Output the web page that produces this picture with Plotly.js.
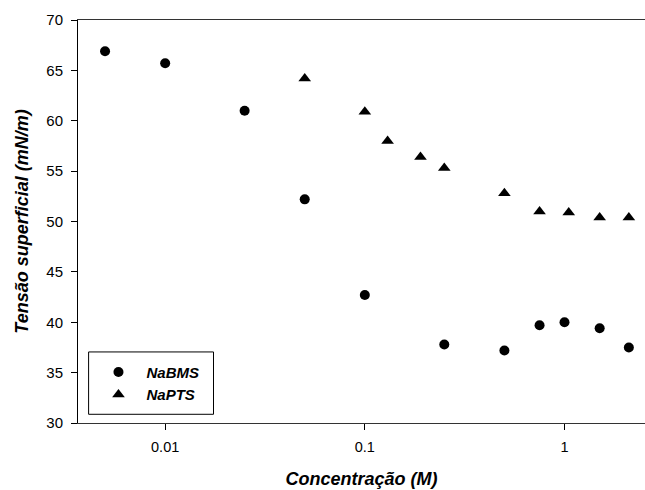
<!DOCTYPE html>
<html>
<head>
<meta charset="utf-8">
<script src="https://cdn.plot.ly/plotly-3.0.1.min.js"></script>
<style>html,body{margin:0;padding:0;background:#fff;}#chart{width:645px;height:490px;}</style>
</head>
<body>
<div id="chart"></div>
<script>
// Data
const nabmsConc = [0.005, 0.01, 0.025, 0.05, 0.1, 0.25, 0.5, 0.75, 1.0, 1.5, 2.1];
const nabmsTension = [66.9, 65.7, 61.0, 52.2, 42.7, 37.8, 37.2, 39.7, 40.0, 39.4, 37.5];
const naptsConc = [0.05, 0.1, 0.13, 0.19, 0.25, 0.5, 0.75, 1.05, 1.5, 2.1];
const naptsTension = [64.2, 60.9, 58.0, 56.4, 55.3, 52.8, 51.0, 50.9, 50.4, 50.4];
const xTickVals = [0.01, 0.1, 1];
const xTickText = ['0.01', '0.1', '1'];
const yTickVals = [30, 35, 40, 45, 50, 55, 60, 65, 70];

const fontFam = 'Arial, "Liberation Sans", sans-serif';

const traces = [
  {x: nabmsConc, y: nabmsTension, name: 'NaBMS', type: 'scatter', mode: 'markers',
   marker: {symbol: 'circle', size: 10, color: '#000'}},
  {x: naptsConc, y: naptsTension, name: 'NaPTS', type: 'scatter', mode: 'markers',
   marker: {symbol: 'triangle-up', size: 11, color: '#000'}}
];

const layout = {
  width: 645, height: 490,
  margin: {l: 78, r: 0, t: 20, b: 67},
  paper_bgcolor: '#fff', plot_bgcolor: '#fff',
  font: {family: fontFam, color: '#000', size: 14},
  showlegend: true,
  legend: {
    x: 0.022, y: 0.167, xanchor: 'left', yanchor: 'top',
    bgcolor: 'rgba(0,0,0,0)', borderwidth: 0,
    itemwidth: 46,
    font: {family: fontFam, size: 15, weight: 'bold', style: 'italic', color: '#000'},
    tracegroupgap: 0
  },
  xaxis: {
    type: 'log', range: [Math.log10(0.00366), Math.log10(2.53)],
    tickvals: xTickVals, ticktext: xTickText,
    ticks: 'outside', ticklen: 6, tickcolor: '#000', tickwidth: 1,
    ticklabelstandoff: 5,
    showline: true, linecolor: '#333', linewidth: 1, mirror: true,
    showgrid: false, zeroline: false,
    tickfont: {size: 14.5},
    title: {text: 'Concentração (M)', font: {size: 18, weight: 'bold', style: 'italic'}, standoff: 17}
  },
  yaxis: {
    range: [30, 70], tickvals: yTickVals,
    ticks: 'outside', ticklen: 6, tickcolor: '#000', tickwidth: 1,
    ticklabelstandoff: 5,
    showline: true, linecolor: '#000', linewidth: 1, mirror: false,
    showgrid: false, zeroline: false,
    tickfont: {size: 15},
    title: {text: 'Tensão superficial (mN/m)', font: {size: 18, weight: 'bold', style: 'italic'}, standoff: 13}
  },
  shapes: [
    {type: 'rect', xref: 'paper', yref: 'paper', x0: 0.0187, x1: 0.239, y0: 0.0216, y1: 0.1763,
     line: {color: '#000', width: 1}, fillcolor: 'rgba(0,0,0,0)'}
  ]
};

Plotly.newPlot('chart', traces, layout, {displayModeBar: false, staticPlot: true});
</script>
</body>
</html>
